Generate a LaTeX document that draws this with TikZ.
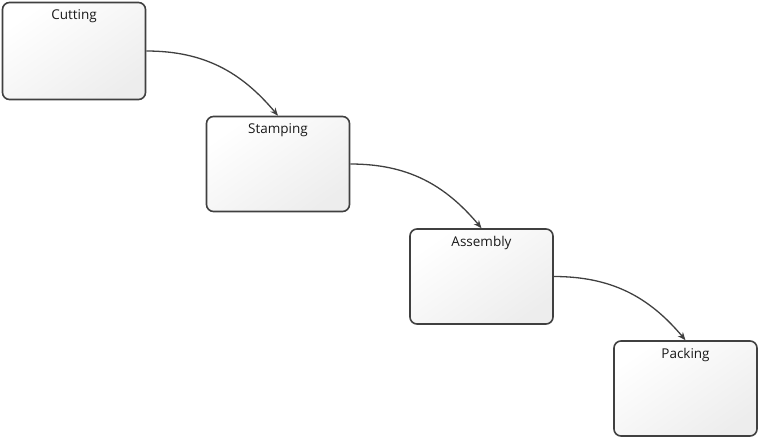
\documentclass[tikz,border=0pt]{standalone}
\usepackage{fontspec}
\setmainfont{Open Sans}
\usetikzlibrary{arrows.meta}

\begin{document}
\begin{tikzpicture}[x=1pt, y=-1pt, font=\fontsize{13.5}{16}\selectfont,
    stage/.style={draw=black!75, line width=1.6pt, rounded corners=7pt,
        minimum width=143pt, minimum height=95pt,
        top color=white, bottom color=black!7, shading angle=35},
    stagename/.style={anchor=north, inner sep=0pt, yshift=-8pt, text=black!90},
    flow/.style={draw=black!75, line width=1.3pt, -{Stealth[length=8pt,width=6.5pt]}}]

\useasboundingbox (0,0) rectangle (761,440);

\node[stage, minimum height=97pt, label={[stagename]north:Cutting}] (cutting) at (74,51) {};
\node[stage, label={[stagename]north:Stamping}] (stamping) at (278,164) {};
\node[stage, label={[stagename]north:Assembly}] (assembly) at (481.5,276.5) {};
\node[stage, label={[stagename]north:Packing}] (packing) at (685.5,388.5) {};

\draw[flow] (cutting.east) to[out=0, in=130] (stamping.north);
\draw[flow] (stamping.east) to[out=0, in=130] (assembly.north);
\draw[flow] (assembly.east) to[out=0, in=130] (packing.north);

\end{tikzpicture}
\end{document}
